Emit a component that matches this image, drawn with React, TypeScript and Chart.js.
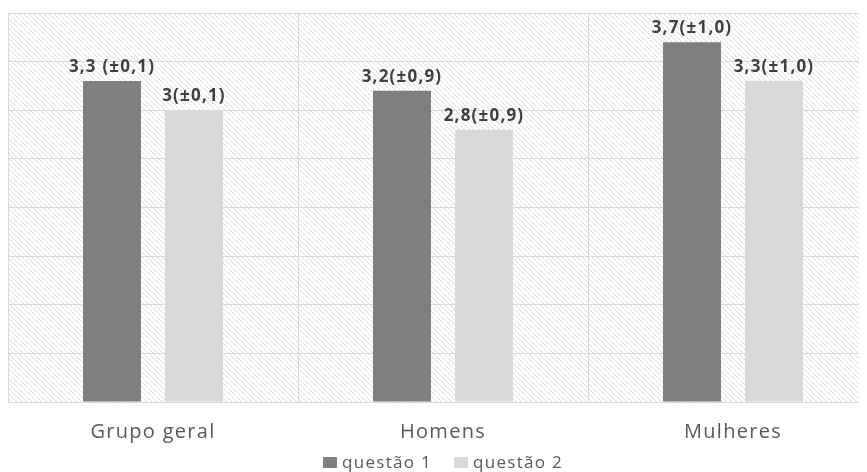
import React, { useEffect, useRef } from "react";
import { Chart, registerables } from "chart.js";

Chart.register(...registerables);

const categories = ["Grupo geral", "Homens", "Mulheres"];
const seriesNames = ["questão 1", "questão 2"];
const seriesColors = ["#7f7f7f", "#d9d9d9"];
const q1Values = [3.3, 3.2, 3.7];
const q2Values = [3.0, 2.8, 3.3];
const q1Labels = ["3,3 (±0,1)", "3,2(±0,9)", "3,7(±1,0)"];
const q2Labels = ["3(±0,1)", "2,8(±0,9)", "3,3(±1,0)"];

function makePattern(ctx: CanvasRenderingContext2D) {
  const s = 5;
  const c = document.createElement("canvas");
  c.width = s;
  c.height = s;
  const p = c.getContext("2d")!;
  p.fillStyle = "#ffffff";
  p.fillRect(0, 0, s, s);
  p.strokeStyle = "#dcdcdc";
  p.lineWidth = 1;
  p.beginPath();
  p.moveTo(-1, -1);
  p.lineTo(s + 1, s + 1);
  p.moveTo(-1 - s, -1);
  p.lineTo(s + 1 - s, s + 1);
  p.moveTo(-1 + s, -1);
  p.lineTo(s + 1 + s, s + 1);
  p.stroke();
  return ctx.createPattern(c, "repeat");
}

export default function App() {
  const ref = useRef<HTMLCanvasElement>(null);
  useEffect(() => {
    document.documentElement.style.overflow = "hidden";
    const canvas = ref.current!;
    const ctx = canvas.getContext("2d")!;
    const pattern = makePattern(ctx);

    const bgPlugin = {
      id: "bg",
      beforeDraw(chart: any) {
        const { ctx, chartArea } = chart;
        ctx.fillStyle = pattern as any;
        ctx.fillRect(chartArea.left, chartArea.top, chartArea.right - chartArea.left, chartArea.bottom - chartArea.top);
        (ctx as any).letterSpacing = "1.3px";
      },
    };

    const labelPlugin = {
      id: "vals",
      afterDatasetsDraw(chart: any) {
        const { ctx } = chart;
        const all = [q1Labels, q2Labels];
        ctx.save();
        ctx.font = "bold 17px 'Open Sans'";
        (ctx as any).letterSpacing = "1.2px";
        ctx.fillStyle = "#404040";
        ctx.textAlign = "center";
        ctx.textBaseline = "alphabetic";
        chart.data.datasets.forEach((_: any, di: number) => {
          const meta = chart.getDatasetMeta(di);
          meta.data.forEach((el: any, i: number) => {
            ctx.fillText(all[di][i], el.x, el.y - 9);
          });
        });
        ctx.restore();
      },
    };

    const legendPlugin = {
      id: "customLegend",
      afterDraw(chart: any) {
        const { ctx, chartArea } = chart;
        ctx.save();
        ctx.font = "17px 'Open Sans'";
        (ctx as any).letterSpacing = "1.3px";
        ctx.textBaseline = "alphabetic";
        ctx.textAlign = "left";
        const boxW = 14;
        const boxH = 11;
        const gapBox = 5;
        const gapItem = 22;
        const widths = seriesNames.map((n) => ctx.measureText(n).width);
        const total = widths.reduce((a, w) => a + boxW + gapBox + w, 0) + gapItem * (seriesNames.length - 1);
        const cx = (chartArea.left + chartArea.right) / 2;
        const base = chartArea.bottom + 66;
        let x = cx - total / 2;
        seriesNames.forEach((n, i) => {
          ctx.fillStyle = seriesColors[i];
          ctx.fillRect(x, base - boxH, boxW, boxH);
          x += boxW + gapBox;
          ctx.fillStyle = "#595959";
          ctx.fillText(n, x, base);
          x += widths[i] + gapItem;
        });
        ctx.restore();
      },
    };

    const chart = new Chart(canvas, {
      type: "bar",
      data: {
        labels: categories,
        datasets: [
          {
            label: seriesNames[0],
            data: q1Values,
            backgroundColor: seriesColors[0],
            categoryPercentage: 0.5655,
            barPercentage: 0.707,
          },
          {
            label: seriesNames[1],
            data: q2Values,
            backgroundColor: seriesColors[1],
            categoryPercentage: 0.5655,
            barPercentage: 0.707,
          },
        ],
      },
      options: {
        responsive: false,
        animation: false,
        layout: { padding: { top: 5, left: 0, right: 0, bottom: 10 } },
        scales: {
          x: {
            grid: { color: "#d9d9d9", drawTicks: false, lineWidth: 1 },
            border: { display: true, color: "#d9d9d9" },
            ticks: {
              color: "#595959",
              font: { family: "'Open Sans'", size: 20 },
              padding: 18,
            },
          },
          y: {
            min: 0,
            max: 4,
            grid: { color: "#d9d9d9", drawTicks: false, lineWidth: 1 },
            border: { display: true, color: "#d9d9d9" },
            ticks: { display: false, stepSize: 0.5 },
          },
        },
        plugins: {
          legend: { display: false },
          tooltip: { enabled: false },
        },
      },
      plugins: [bgPlugin, labelPlugin, legendPlugin],
    });
    return () => chart.destroy();
  }, []);
  return (
    <div style={{ width: 859, height: 464, overflow: "hidden" }}>
      <canvas ref={ref} width={870} height={464} style={{ display: "block" }} />
    </div>
  );
}
